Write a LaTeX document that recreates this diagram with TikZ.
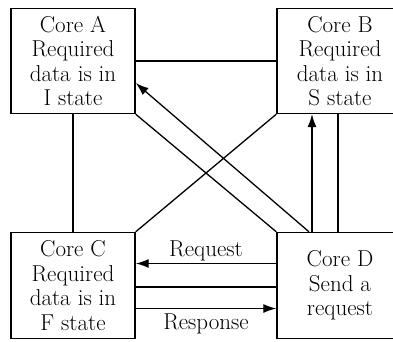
\documentclass[tikz,border=0pt]{standalone}
\usetikzlibrary{arrows.meta}

\tikzset{
  core/.style={draw, line width=1.4pt, rectangle, align=center, inner sep=0pt,
    font=\fontsize{23}{24.5}\selectfont},
  link/.style={line width=1.3pt},
  msg/.style={line width=1.3pt, -{Latex[length=13pt,width=9pt]}},
  lbl/.style={font=\fontsize{23}{24}\selectfont, inner sep=2pt}
}

\begin{document}
\begin{tikzpicture}[x=1pt, y=-1pt]
	\useasboundingbox (0,0) rectangle (393,341);
	% the four cores
	\node[core, minimum width=124pt, minimum height=105pt] (A) at (73,61) {Core A\\Required\\data is in\\I state};
	\node[core, minimum width=126pt, minimum height=105pt] (B) at (340,61) {Core B\\Required\\data is in\\S state};
	\node[core, minimum width=124pt, minimum height=106pt] (C) at (73,285.5) {Core C\\Required\\data is in\\F state};
	\node[core, minimum width=126pt, minimum height=106pt] (D) at (340,285.5) {Core D\\Send a\\request};
	% plain links
	\draw[link] (A) -- (B);
	\draw[link] (A) -- (C);
	\draw[link] (A.south east) -- (D.north west);
	\draw[link] (C.north east) -- (B.south west);
	\draw[link] ([xshift=-2pt]D.north) -- ([xshift=-2pt]B.south -| D.north);
	\draw[link] ([yshift=-1.5pt]D.west) -- ([yshift=-1.5pt]C.east);
	% messages sent by core D
	\draw[msg] ([xshift=-31pt]D.north) -- ([yshift=-22pt]A.east);
	\draw[msg] ([xshift=-28pt]D.north) -- ([xshift=-28pt]B.south -| D.north);
	\draw[msg] ([yshift=22pt]D.west) -- node[lbl, above] {Request} ([yshift=22pt]C.east);
	\draw[msg] ([yshift=-23pt]C.east) -- node[lbl, below=3pt] {Response} ([yshift=-23pt]D.west);
\end{tikzpicture}
\end{document}
